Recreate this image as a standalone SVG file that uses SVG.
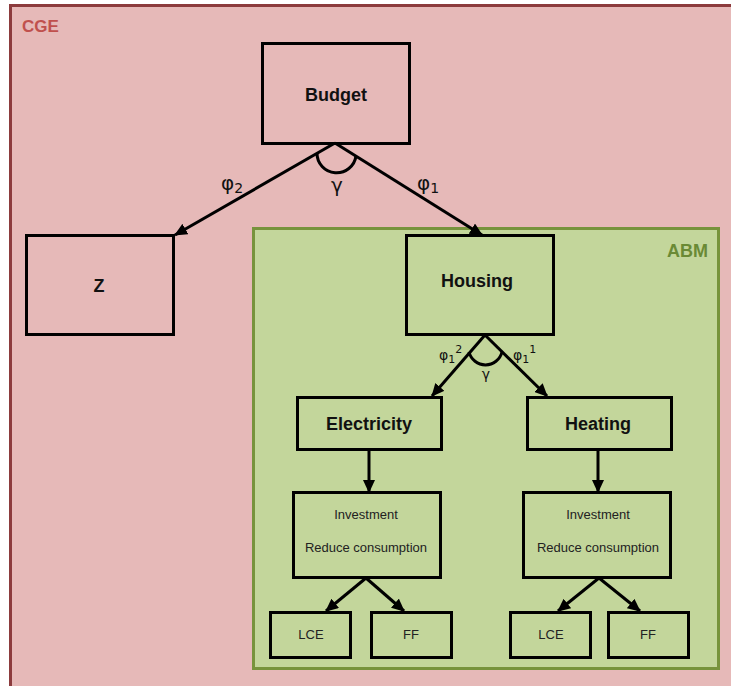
<svg xmlns="http://www.w3.org/2000/svg" width="731" height="686" viewBox="0 0 731 686">
<style>
.box{fill:none;stroke:#000;stroke-width:3}
.b{font-family:"Liberation Sans",Arial,sans-serif;font-weight:bold;font-size:18px;fill:#111;text-anchor:middle}
.s{font-family:"Liberation Sans",Arial,sans-serif;font-size:13px;fill:#222;text-anchor:middle}
.g{font-family:"DejaVu Sans","Liberation Sans",sans-serif;font-size:20px;fill:#111}
.g2{font-family:"DejaVu Sans","Liberation Sans",sans-serif;font-size:14px;fill:#111}
.ln{fill:none;stroke:#000;stroke-width:3}
</style>
<defs>
<marker id="ah" markerUnits="userSpaceOnUse" markerWidth="14" markerHeight="12" refX="12" refY="6" orient="auto">
<path d="M0,0 L13,6 L0,12 Z" fill="#000"/>
</marker>
</defs>
<rect x="0" y="0" width="731" height="686" fill="#fff"/>
<g id="cge">
<rect x="10.5" y="5.5" width="740" height="700" fill="#e6b9b8" stroke="#8c3b3d" stroke-width="3"/>
<text x="22" y="32" font-family="'Liberation Sans',Arial,sans-serif" font-weight="bold" font-size="17" fill="#c0504d">CGE</text>
</g>
<g id="abm">
<rect x="253.5" y="228.5" width="465" height="440" fill="#c3d69b" stroke="#77933c" stroke-width="3"/>
<text x="708" y="257" text-anchor="end" font-family="'Liberation Sans',Arial,sans-serif" font-weight="bold" font-size="18" fill="#6a8a35">ABM</text>
</g>
<g id="connectors">
<line class="ln" x1="335" y1="143" x2="175" y2="235" marker-end="url(#ah)"/>
<line class="ln" x1="335" y1="143" x2="482" y2="235" marker-end="url(#ah)"/>
<path class="ln" d="M317,153 A19.6 19.6 0 0 0 356,156"/>
<line class="ln" x1="485" y1="335" x2="432" y2="396" marker-end="url(#ah)"/>
<line class="ln" x1="485" y1="335" x2="547" y2="396" marker-end="url(#ah)"/>
<path class="ln" d="M469,352 A17 17 0 0 0 502,352"/>
<line class="ln" x1="369" y1="450" x2="369" y2="492" marker-end="url(#ah)"/>
<line class="ln" x1="598" y1="450" x2="598" y2="492" marker-end="url(#ah)"/>
<line class="ln" x1="366" y1="578" x2="326" y2="611" marker-end="url(#ah)"/>
<line class="ln" x1="366" y1="578" x2="404" y2="611" marker-end="url(#ah)"/>
<line class="ln" x1="599" y1="578" x2="558" y2="611" marker-end="url(#ah)"/>
<line class="ln" x1="599" y1="578" x2="640" y2="611" marker-end="url(#ah)"/>
<text class="g" x="221" y="190">φ<tspan class="g2" dy="3">2</tspan></text>
<text class="g" x="417" y="190">φ<tspan class="g2" dy="3">1</tspan></text>
<text class="g" x="337" y="192" text-anchor="middle">γ</text>
<text class="g2" x="439" y="360" font-size="15">φ<tspan font-size="11" dy="3">1</tspan><tspan font-size="11" dy="-10">2</tspan></text>
<text class="g2" x="513" y="360" font-size="15">φ<tspan font-size="11" dy="3">1</tspan><tspan font-size="11" dy="-10">1</tspan></text>
<text class="g2" x="486" y="379" text-anchor="middle" font-size="16">γ</text>
</g>
<g id="budget"><rect class="box" x="262.5" y="43.5" width="147" height="100"/><text class="b" x="336" y="101">Budget</text></g>
<g id="z"><rect class="box" x="26.5" y="235.5" width="147" height="99"/><text class="b" x="99" y="292">Z</text></g>
<g id="housing"><rect class="box" x="406.5" y="235.5" width="147" height="99"/><text class="b" x="477" y="287">Housing</text></g>
<g id="electricity"><rect class="box" x="297.5" y="397.5" width="144" height="52"/><text class="b" x="369" y="430">Electricity</text></g>
<g id="heating"><rect class="box" x="527.5" y="397.5" width="144" height="52"/><text class="b" x="598" y="430">Heating</text></g>
<g id="inv1"><rect class="box" x="293.5" y="492.5" width="147" height="85"/><text class="s" x="366" y="519">Investment</text><text class="s" x="366" y="552">Reduce consumption</text></g>
<g id="inv2"><rect class="box" x="523.5" y="492.5" width="147" height="85"/><text class="s" x="598" y="519">Investment</text><text class="s" x="598" y="552">Reduce consumption</text></g>
<g id="lce1"><rect class="box" x="270.5" y="612.5" width="80" height="45"/><text class="s" x="311" y="639">LCE</text></g>
<g id="ff1"><rect class="box" x="371.5" y="612.5" width="80" height="45"/><text class="s" x="411" y="639">FF</text></g>
<g id="lce2"><rect class="box" x="510.5" y="612.5" width="80" height="45"/><text class="s" x="551" y="639">LCE</text></g>
<g id="ff2"><rect class="box" x="608.5" y="612.5" width="80" height="45"/><text class="s" x="648" y="639">FF</text></g>
</svg>
